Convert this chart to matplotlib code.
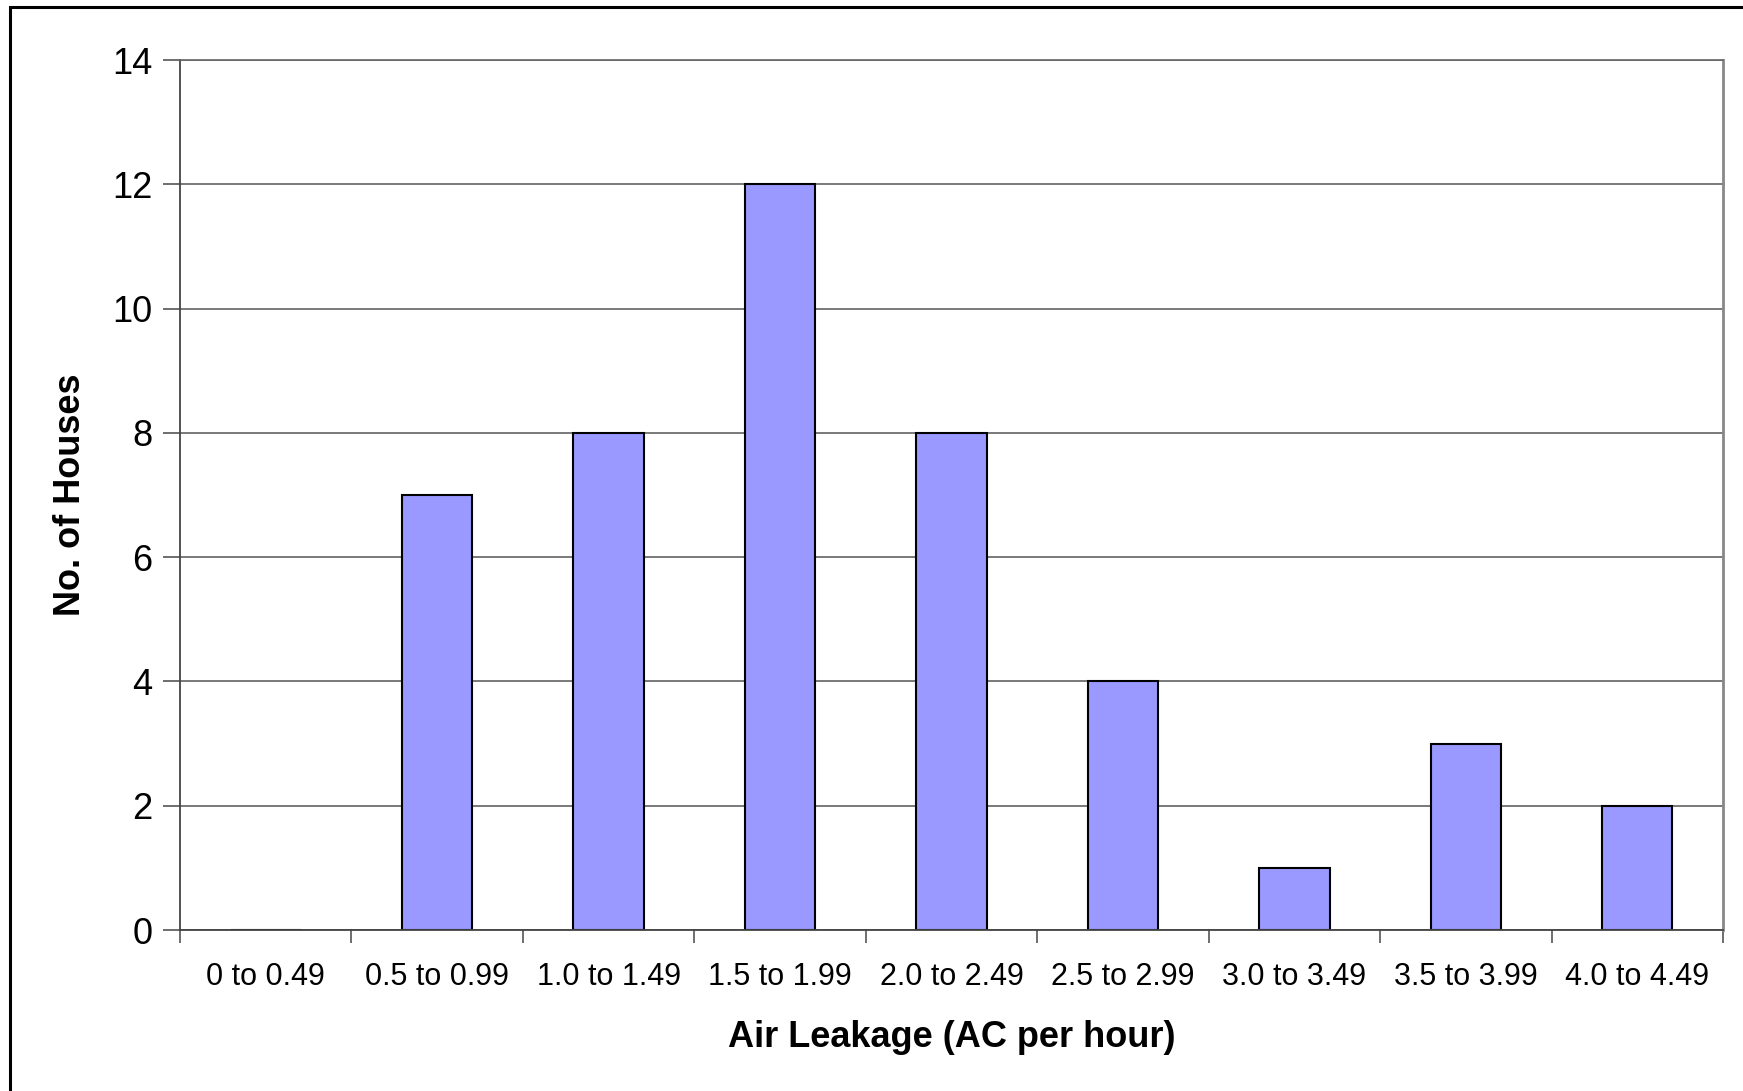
import matplotlib
matplotlib.use("Agg")
import matplotlib.pyplot as plt
from matplotlib.patches import Rectangle
import numpy as np

plt.rcParams["font.family"] = ["Liberation Sans", "DejaVu Sans"]

# air change rate bins and number of houses in each
bins = ["0 to 0.49", "0.5 to 0.99", "1.0 to 1.49", "1.5 to 1.99", "2.0 to 2.49",
        "2.5 to 2.99", "3.0 to 3.49", "3.5 to 3.99", "4.0 to 4.49"]
houses = [0, 7, 8, 12, 8, 4, 1, 3, 2]
y_ticks = [0, 2, 4, 6, 8, 10, 12, 14]

W, H = 1743, 1091
fig = plt.figure(figsize=(W / 100, H / 100), dpi=100)
ax = fig.add_axes([180 / W, 1 - 930 / H, (1723 - 180) / W, (930 - 60) / H])

x = np.arange(len(bins))
ax.bar(x, houses, width=0.41, color="#9999FF", edgecolor="black", linewidth=1.5, zorder=2)

ax.set_xlim(-0.5, len(bins) - 0.5)
ax.set_ylim(0, 14)
ax.set_yticks(y_ticks)
ax.set_yticklabels([str(v) for v in y_ticks], fontsize=26)
ax.yaxis.grid(True, color="#555555", linewidth=1.1, zorder=0)

# category labels centred, tick marks on the bin boundaries
ax.set_xticks(x)
ax.set_xticklabels(bins, fontsize=22)
ax.set_xticks(np.arange(len(bins) + 1) - 0.5, minor=True)
ax.tick_params(axis="x", which="major", length=0, pad=23)
ax.tick_params(axis="x", which="minor", length=9, width=1.2, color="#555555")
ax.tick_params(axis="y", length=12, width=1.2, color="#555555", pad=8)

for side in ("left", "bottom"):
    ax.spines[side].set_color("#444444")
    ax.spines[side].set_linewidth(1.3)
ax.spines["top"].set_color("#666666")
ax.spines["top"].set_linewidth(1.2)
ax.spines["right"].set_color("#888888")
ax.spines["right"].set_linewidth(2)

ax.set_ylabel("No. of Houses", fontsize=26, fontweight="bold", labelpad=17)
ax.set_xlabel("Air Leakage (AC per hour)", fontsize=26, fontweight="bold", labelpad=20)

# outer chart frame (runs off the right and bottom edges)
fig.patches.append(Rectangle((10 / W, -0.05), 1.2, 1 - 7 / H + 0.05,
                             transform=fig.transFigure, fill=False,
                             edgecolor="black", linewidth=2.2))

fig.savefig("out.png", dpi=100)
